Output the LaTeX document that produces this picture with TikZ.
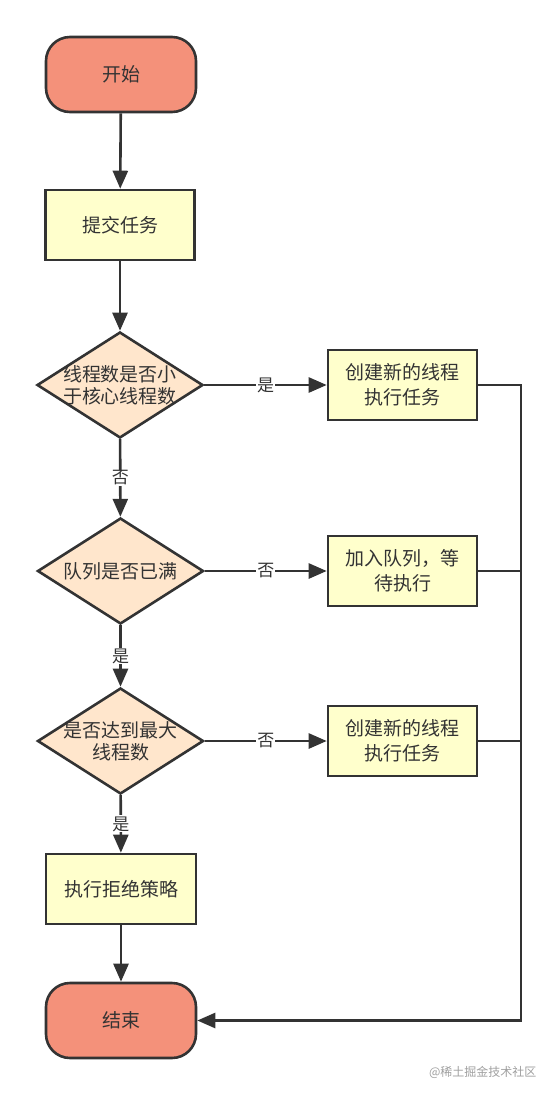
\documentclass[tikz,border=0pt]{standalone}
\usepackage{fontspec}
\setmainfont{Noto Sans CJK SC}
\usetikzlibrary{shapes.geometric,arrows.meta}
\definecolor{ln}{HTML}{333333}
\definecolor{txt}{HTML}{333333}
\definecolor{termfill}{HTML}{F4917A}
\definecolor{procfill}{HTML}{FFFFCC}
\definecolor{decfill}{HTML}{FFE6CC}
\begin{document}
\begin{tikzpicture}[x=1pt,y=-1pt, line width=2.6pt,
 every node/.style={text=txt, font=\fontsize{19}{25}\selectfont},
 term/.style={draw=ln, fill=termfill, rounded corners=24pt, minimum width=150pt, minimum height=75pt, inner sep=0pt},
 proc/.style={draw=ln, fill=procfill, minimum width=149pt, minimum height=70pt, inner sep=0pt, align=center},
 dec/.style={draw=ln, fill=decfill, diamond, minimum width=166pt, minimum height=106pt, inner sep=0pt},
 dtext/.style={align=center, font=\fontsize{19}{22}\selectfont},
 arr/.style={draw=ln, -{Triangle[length=18pt,width=15pt]}},
 lbl/.style={fill=white, inner sep=1pt, font=\fontsize{17}{18}\selectfont}]
\useasboundingbox (0,0) rectangle (558,1096);
\node[term] (start) at (121,74.5) {开始};
\node[proc] (submit) at (120,225) {提交任务};
\node[dec] (d1) at (120,385) {};
\node[dtext] (d1t) at (d1.center) {线程数是否小\\于核心线程数};
\node[proc] (b1) at (402.5,385) {创建新的线程\\执行任务};
\node[dec] (d2) at (120.5,571) {};
\node[dtext] (d2t) at (d2.center) {队列是否已满};
\node[proc] (b2) at (402.5,571) {加入队列，等\\待执行};
\node[dec] (d3) at (120.5,741) {};
\node[dtext] (d3t) at (d3.center) {是否达到最大\\线程数};
\node[proc] (b3) at (402.5,741) {创建新的线程\\执行任务};
\node[proc, minimum width=150pt] (reject) at (121,889) {执行拒绝策略};
\node[term] (end) at (121,1020.5) {结束};
\coordinate (bus) at (521,385);
\draw[arr] (start) -- (submit);
\draw[arr] (submit) -- (d1);
\draw[arr] (d1) -- node[lbl]{是} (b1);
\draw[arr] (d1) -- node[lbl]{否} (d2);
\draw[arr] (d2) -- node[lbl]{否} (b2);
\draw[arr] (d2) -- node[lbl]{是} (d3);
\draw[arr] (d3) -- node[lbl]{否} (b3);
\draw[arr] (d3) -- node[lbl]{是} (reject);
\draw[arr] (reject) -- (end);
\draw[arr] (b1.east) -- (bus) |- (end.east);
\draw[draw=ln] (b2.east) -- (b2.east -| bus);
\draw[draw=ln] (b3.east) -- (b3.east -| bus);
\node[anchor=east, text=gray!75, font=\fontsize{12}{14}\selectfont] (wm) at (541,1072) {@稀土掘金技术社区};
\end{tikzpicture}
\end{document}
